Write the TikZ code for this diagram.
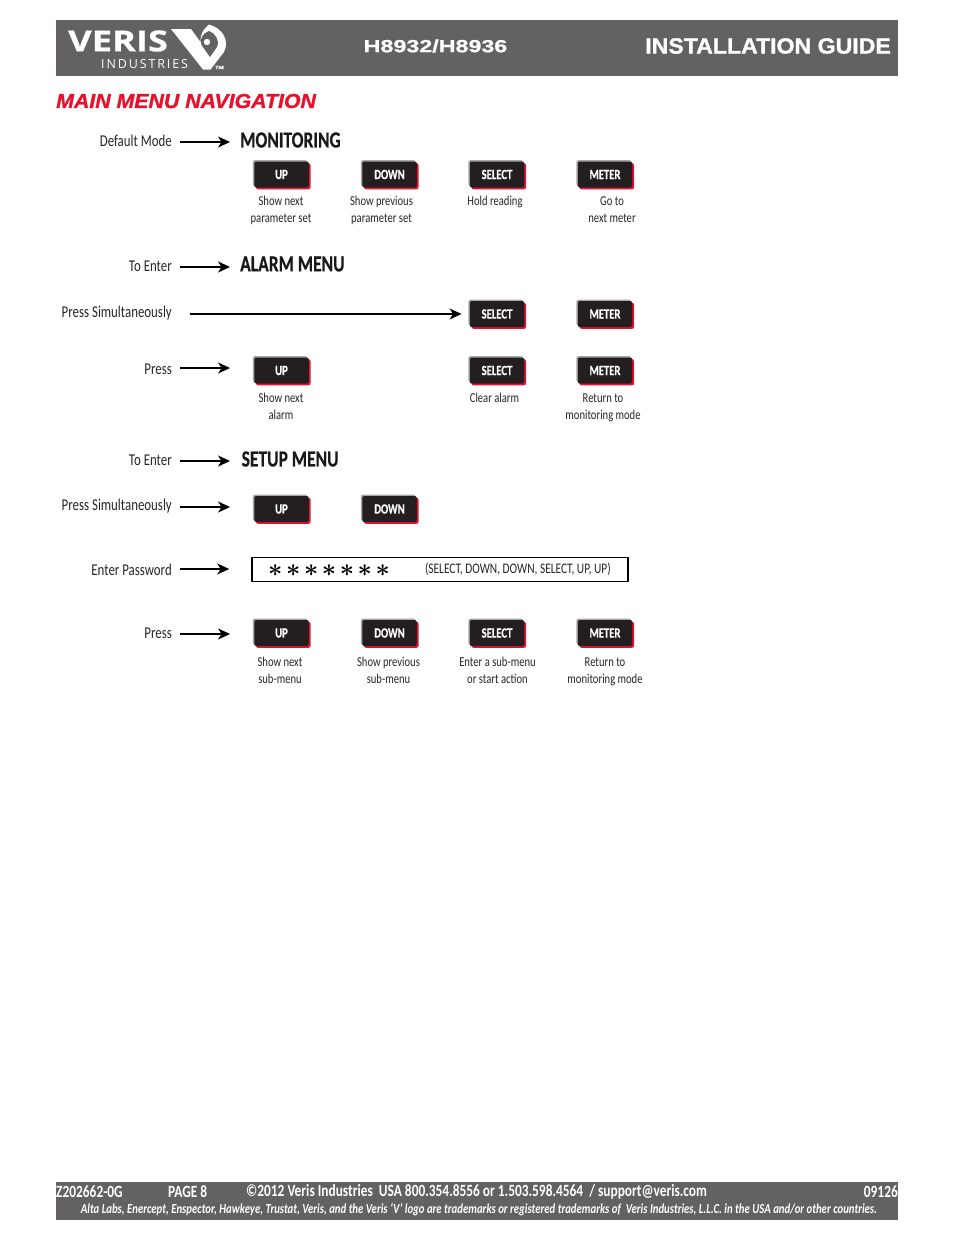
\documentclass[tikz,border=0pt]{standalone}
\usepackage{fontspec}
\setmainfont{Carlito}
\newfontfamily\condfont[FakeStretch=0.78]{Carlito}
\newfontfamily\hdgfont[FakeStretch=0.76,BoldFeatures={FakeBold=0.4}]{Carlito}
\newfontfamily\guidefont[FakeStretch=1.05,BoldFeatures={FakeBold=1.2},BoldItalicFeatures={FakeBold=1.2}]{Liberation Sans}
\newfontfamily\typefont[FakeStretch=1.33,BoldFeatures={FakeBold=0.8}]{Liberation Sans}
\newfontfamily\logofont[FakeStretch=1.25,BoldFeatures={FakeBold=0.6}]{Open Sans}
\newfontfamily\subfont[LetterSpace=15]{Open Sans}
\usepackage{xcolor}
\usetikzlibrary{arrows.meta}
\definecolor{barcol}{HTML}{636161}
\definecolor{btncol}{HTML}{231F20}
\definecolor{redcol}{HTML}{E8112D}
\definecolor{edgecol}{HTML}{A7A5A6}

\begin{document}
\begin{tikzpicture}[x=1pt,y=-1pt]%
  \tikzstyle{lbl}=[anchor=east,inner sep=0,font=\condfont\fontsize{16.5}{17}\selectfont,text=black!85]
  \tikzstyle{captxt}=[inner sep=0,align=center,font=\condfont\fontsize{13.6}{16.8}\selectfont,text=black!85]
  \tikzstyle{hdg}=[anchor=west,inner sep=0,font=\hdgfont\bfseries\fontsize{23}{24}\selectfont,text=black!90]
  \tikzstyle{btn}=[rectangle,rounded corners=2,inner sep=0,minimum width=54.5,minimum height=26,
    fill=btncol,text=white,font=\hdgfont\bfseries\fontsize{14}{15}\selectfont,
    preaction={fill=edgecol,transform canvas={xshift=-1.4pt,yshift=1.4pt}},
    preaction={fill=redcol,transform canvas={xshift=1.8pt,yshift=-1.8pt}}]
  \tikzstyle{arw}=[-{Stealth[length=12,width=11,inset=3.5]},line width=1.4]
  \tikzstyle{bar}=[rectangle,inner sep=0,fill=barcol,text=white]
  \tikzstyle{foot}=[anchor=west,inner sep=0,text=white,font=\condfont\bfseries\fontsize{17.15}{18}\selectfont]
  \useasboundingbox (0,0) rectangle (954,1235);
  % header
  \node(hbar)[bar,minimum width=842,minimum height=56] at (477,48) {};
  \node(htype)[anchor=center,inner sep=0,text=white,font=\typefont\bfseries\fontsize{17.5}{19}\selectfont] at (435.5,46) {H8932/H8936};
  \node(hguide)[anchor=east,inner sep=0,text=white,font=\guidefont\bfseries\fontsize{22}{23}\selectfont] at (891,46) {INSTALLATION GUIDE};
  \node(lveris)[anchor=west,inner sep=0,text=white,font=\logofont\bfseries\fontsize{29}{30}\selectfont] at (68,41) {VERIS};
  \node(lind)[anchor=west,inner sep=0,text=white,font=\subfont\fontsize{12.5}{14}\selectfont] at (101,64) {INDUSTRIES};
  \node(ltm)[anchor=west,inner sep=0,text=white,font=\logofont\bfseries\fontsize{4.5}{5}\selectfont] at (215,67.5) {TM};
  \fill[white] (171,29) -- (191,29) -- (200.5,42) .. controls (200,35) and (203,29) .. (209,24.5)
    .. controls (222,28) and (230,40) .. (224,52) -- (210.5,69.5) -- (203,69.5) -- cycle;
  \fill[barcol] (209,31) .. controls (215,33) and (220,40) .. (217,47) -- (210,57) -- (201.5,45)
    .. controls (199,39) and (203,33) .. (209,31) -- cycle;
  \fill[white] (207,42) circle (3.2);
  \node(title)[anchor=west,inner sep=0,text=redcol,font=\guidefont\bfseries\itshape\fontsize{20.3}{21}\selectfont] at (56,101) {MAIN MENU NAVIGATION};
  % monitoring
  \node(hmon)[hdg] at (240,140) {MONITORING};
  \node(ldef)[lbl] at (172,141) {Default Mode};
  \node(mup)[btn] at (281.5,174.5) {UP};
  \node(mdown)[btn] at (389.5,174.5) {DOWN};
  \node(msel)[btn] at (497,174.5) {SELECT};
  \node(mmet)[btn] at (605,174.5) {METER};
  \node(cup)[captxt] at (281,210.5) {Show next\\parameter set};
  \node(cdown)[captxt] at (381.5,210.5) {Show previous\\parameter set};
  \node(csel)[captxt] at (495,202) {Hold reading};
  \node(cmet)[captxt] at (612,209.7) {Go to\\next meter};
  % alarm
  \node(halm)[hdg] at (240,264) {ALARM MENU};
  \node(lent)[lbl] at (172,266) {To Enter};
  \node(lsim)[lbl] at (172,313) {Press Simultaneously};
  \node(asel)[btn] at (497,314) {SELECT};
  \node(amet)[btn] at (605,314) {METER};
  \node(lpra)[lbl] at (172,369) {Press};
  \node(pup)[btn] at (281.5,370.5) {UP};
  \node(psel)[btn] at (497,370.5) {SELECT};
  \node(pmet)[btn] at (605,370.5) {METER};
  \node(cpup)[captxt] at (281,406) {Show next\\alarm};
  \node(cpsel)[captxt] at (494.5,398) {Clear alarm};
  \node(cpmet)[captxt] at (603,408) {Return to\\monitoring mode};
  % setup
  \node(hset)[hdg] at (241.5,459) {SETUP MENU};
  \node(lens)[lbl] at (172,460) {To Enter};
  \node(lsis)[lbl] at (172,506) {Press Simultaneously};
  \node(sup)[btn] at (281.5,509) {UP};
  \node(sdown)[btn] at (389.5,509) {DOWN};
  \node(lpwd)[lbl] at (172,570) {Enter Password};
  \node(pwd)[rectangle,draw,line width=1.6,inner sep=0,minimum width=376,minimum height=24] at (440,569.5) {};
  \node(stars)[anchor=west,inner sep=0,font=\boldmath\fontsize{25}{25}\selectfont] at (268,570.5) {$*$\hspace{3.6pt}$*$\hspace{3.6pt}$*$\hspace{3.6pt}$*$\hspace{3.6pt}$*$\hspace{3.6pt}$*$\hspace{3.6pt}$*$};
  \node(seq)[captxt,anchor=east,font=\condfont\fontsize{14.6}{16}\selectfont] at (611,569.5) {(SELECT, DOWN, DOWN, SELECT, UP, UP)};
  \node(lprs)[lbl] at (172,633) {Press};
  \node(tup)[btn] at (281.5,633) {UP};
  \node(tdown)[btn] at (389.5,633) {DOWN};
  \node(tsel)[btn] at (497,633) {SELECT};
  \node(tmet)[btn] at (605,633) {METER};
  \node(ctup)[captxt] at (280,670) {Show next\\sub-menu};
  \node(ctdown)[captxt] at (388.5,670) {Show previous\\sub-menu};
  \node(ctsel)[captxt] at (497.5,670) {Enter a sub-menu\\or start action};
  \node(ctmet)[captxt] at (605,672) {Return to\\monitoring mode};
  % arrows
  \draw[arw,shorten <=8,shorten >=10] (ldef.east) ++(0,1) -- (hmon.west |- 0,142);
  \draw[arw,shorten <=8,shorten >=10] (lent.east) ++(0,1) -- (halm.west |- 0,267);
  \draw[arw,shorten <=18,shorten >=8] (lsim.east) ++(0,1) -- (asel.west |- 0,314);
  \draw[arw,shorten <=8,shorten >=24] (lpra.east) ++(0,-1) -- (pup.west |- 0,368);
  \draw[arw,shorten <=8,shorten >=11.5] (lens.east) ++(0,1) -- (hset.west |- 0,461);
  \draw[arw,shorten <=8,shorten >=24] (lsis.east) ++(0,1) -- (sup.west |- 0,507);
  \draw[arw,shorten <=8,shorten >=22] (lpwd.east) ++(0,-1) -- (pwd.west |- 0,569);
  \draw[arw,shorten <=8,shorten >=24] (lprs.east) ++(0,1) -- (tup.west |- 0,634);
  % footer
  \node(fbar)[bar,minimum width=842,minimum height=38] at (477,1201) {};
  \node(fpart)[foot] at (56,1192) {Z202662-0G};
  \node(fpage)[foot] at (168,1192) {PAGE 8};
  \node(fcopy)[foot] at (246,1192) {©2012 Veris Industries\ \ USA 800.354.8556 or 1.503.598.4564\ \ / support@veris.com};
  \node(fnum)[foot,anchor=east] at (898,1192) {09126};
  \node(flegal)[inner sep=0,text=white,font=\condfont\bfseries\itshape\fontsize{13.8}{14}\selectfont] at (479,1210) {Alta Labs, Enercept, Enspector, Hawkeye, Trustat, Veris, and the Veris ‘V’ logo are trademarks or registered trademarks of\ \ Veris Industries, L.L.C. in the USA and/or other countries.};
\end{tikzpicture}
\end{document}
